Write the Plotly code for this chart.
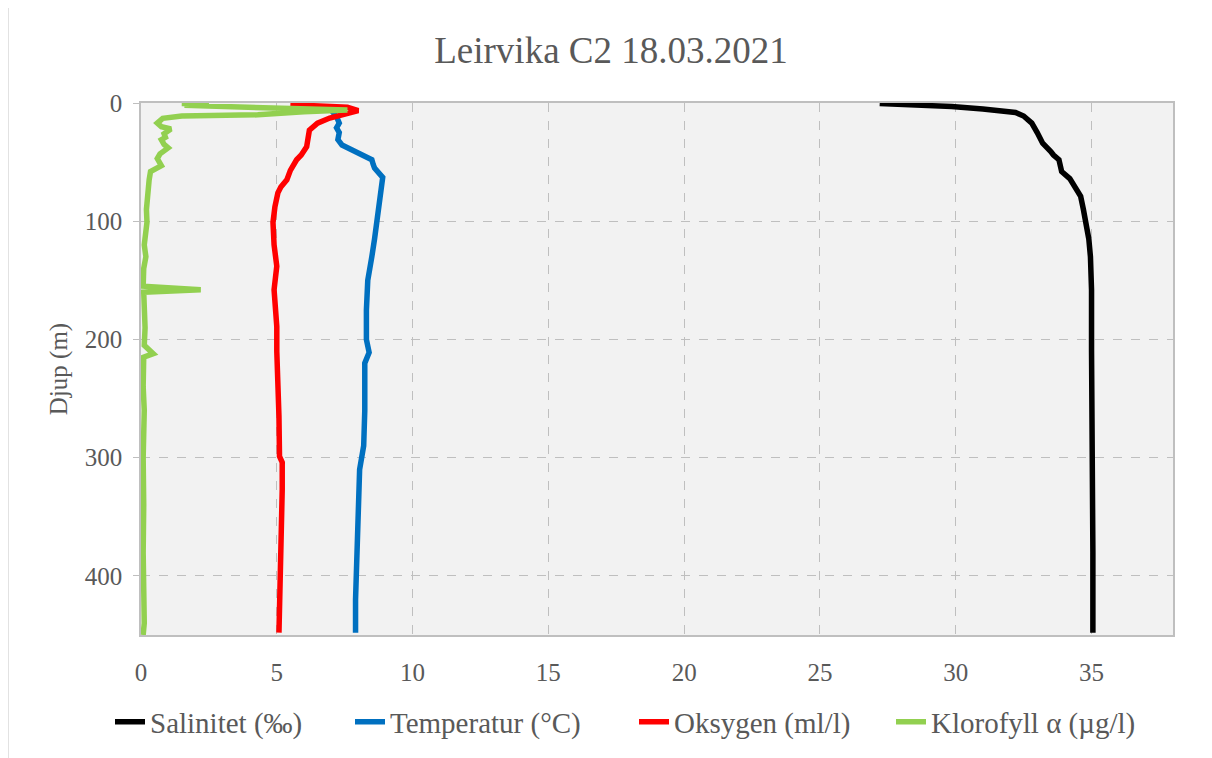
import plotly.graph_objects as go

# Salinitet (‰)
sal_x = [27.2, 28.5, 29.85, 31.0, 32.2, 32.5, 32.8, 33.0, 33.1, 33.2, 33.5, 33.6, 33.8, 33.85, 33.9, 34.2, 34.4, 34.6, 34.7, 34.8, 34.9, 34.96, 35.0, 35.0, 35.02, 35.04, 35.05, 35.05]
sal_y = [0.5, 1.5, 3, 5, 8, 11, 17, 25, 30, 34, 41, 44, 48, 53, 58, 64, 71, 79, 90, 101, 115, 130, 158, 209, 250, 293, 380, 448]

# Temperatur (°C)
temp_x = [7.0, 7.2, 7.3, 7.2, 7.3, 7.25, 7.4, 8.0, 8.5, 8.55, 8.6, 8.9, 8.86, 8.8, 8.7, 8.6, 8.5, 8.35, 8.3, 8.3, 8.4, 8.24, 8.24, 8.2, 8.05, 8.0, 7.93, 7.9, 7.9]
temp_y = [6, 11.5, 17, 21, 25, 31, 35.5, 42, 48, 52, 55, 63, 71, 85, 101, 115, 130, 150, 175, 200, 211, 220, 260, 290, 310, 340, 375, 420, 448]

# Oksygen (ml/l)
oks_x = [5.5, 6.5, 7.6, 8.0, 7.5, 6.95, 6.5, 6.2, 6.15, 6.1, 5.9, 5.73, 5.5, 5.37, 5.15, 5.04, 4.93, 4.86, 4.9, 5.0, 4.9, 5.0, 5.0, 5.04, 5.08, 5.1, 5.2, 5.2, 5.17, 5.1, 5.08]
oks_y = [1.5, 2, 3.5, 6.5, 9, 12.7, 17, 23, 30, 37, 44, 48, 57, 65, 71, 76, 88, 101, 120, 138, 158, 189, 210, 228, 265, 299, 304, 327, 361, 417, 448]

# Klorofyll α (µg/l)
klo_x = [1.5, 2.5, 1.6, 3.0, 4.5, 7.6, 6.0, 4.3, 1.5, 0.8, 0.6, 0.75, 1.1, 0.85, 0.9, 0.75, 0.85, 1.0, 0.7, 0.6, 0.75, 0.5, 0.35, 0.3, 0.25, 0.2, 0.22, 0.15, 0.12, 0.18, 0.1, 0.08, 2.2, 0.1, 0.12, 0.1, 0.15, 0.12, 0.45, 0.1, 0.08, 0.12, 0.1, 0.08, 0.1, 0.08, 0.12, 0.08]
klo_y = [0.5, 1, 2, 3, 4, 6, 7.5, 10, 11, 13, 17, 20, 22, 26, 29, 31, 35, 38, 43, 47, 53, 56, 58, 65, 75, 90, 101, 110, 120, 130, 140, 155, 158, 160, 170, 180, 190, 205, 212, 215, 240, 260, 280, 300, 340, 380, 440, 450]

x_ticks = [0, 5, 10, 15, 20, 25, 30, 35]
y_ticks = [0, 100, 200, 300, 400]

TXT = "#595959"
FONT = "Liberation Serif"

# plot area in page pixels: x 141..1173, y 103..635
def px_x(p):
    return (p - 141) / 1032

def px_y(p):
    return (635 - p) / 532

fig = go.Figure()
series = [
    ("Salinitet (‰)", sal_x, sal_y, "#000000", "legend", 152),
    ("Temperatur (°C)", temp_x, temp_y, "#0070c0", "legend2", 392),
    ("Oksygen (ml/l)", oks_x, oks_y, "#ff0000", "legend3", 676),
    ("Klorofyll α (µg/l)", klo_x, klo_y, "#92d050", "legend4", 933),
]
legends = {}
for name, xs, ys, col, leg, text_px in series:
    fig.add_trace(go.Scatter(x=xs, y=ys, name=name, mode="lines", legend=leg,
                             line=dict(color=col, width=5.5, shape="linear")))
    legends[leg] = dict(orientation="h", x=px_x(text_px - 42), xanchor="left",
                        y=px_y(722), yanchor="middle",
                        font=dict(family=FONT, size=29, color=TXT), itemwidth=30,
                        bgcolor="rgba(0,0,0,0)")

fig.update_layout(
    width=1212, height=758,
    margin=dict(l=133, r=47, t=95, b=131),
    paper_bgcolor="white",
    plot_bgcolor="#f2f2f2",
    font=dict(family=FONT, color=TXT, size=25),
    title=dict(text="Leirvika C2 18.03.2021", x=(611 - 8) / 1212, xanchor="center",
               y=1 - 42 / 758, yanchor="middle",
               font=dict(family=FONT, size=37, color=TXT)),
    showlegend=True,
    xaxis=dict(range=[0, 38], tickvals=x_ticks, ticktext=[str(v) for v in x_ticks],
               showgrid=True, gridcolor="#bfbfbf", griddash="dash", gridwidth=1.3,
               showline=True, mirror=True, linecolor="#bfbfbf", linewidth=1.5,
               zeroline=False, ticks="", ticklabelstandoff=14,
               tickfont=dict(family=FONT, size=25, color=TXT)),
    yaxis=dict(range=[450, 0], tickvals=y_ticks, ticktext=[str(v) for v in y_ticks],
               showgrid=True, gridcolor="#bfbfbf", griddash="dash", gridwidth=1.3,
               showline=True, mirror=True, linecolor="#bfbfbf", linewidth=1.5,
               zeroline=False, ticks="outside", ticklen=6, tickcolor="#bfbfbf",
               ticklabelstandoff=6,
               title=dict(text="Djup (m)", standoff=10,
                          font=dict(family=FONT, size=25, color=TXT)),
               tickfont=dict(family=FONT, size=25, color=TXT)),
    shapes=[dict(type="rect", xref="paper", yref="paper",
                 x0=px_x(8), x1=px_x(1232), y0=px_y(780), y1=px_y(7),
                 line=dict(color="#d9d9d9", width=1.5), fillcolor="rgba(0,0,0,0)",
                 layer="below")],
    **legends,
)

fig.write_html("out.html")
